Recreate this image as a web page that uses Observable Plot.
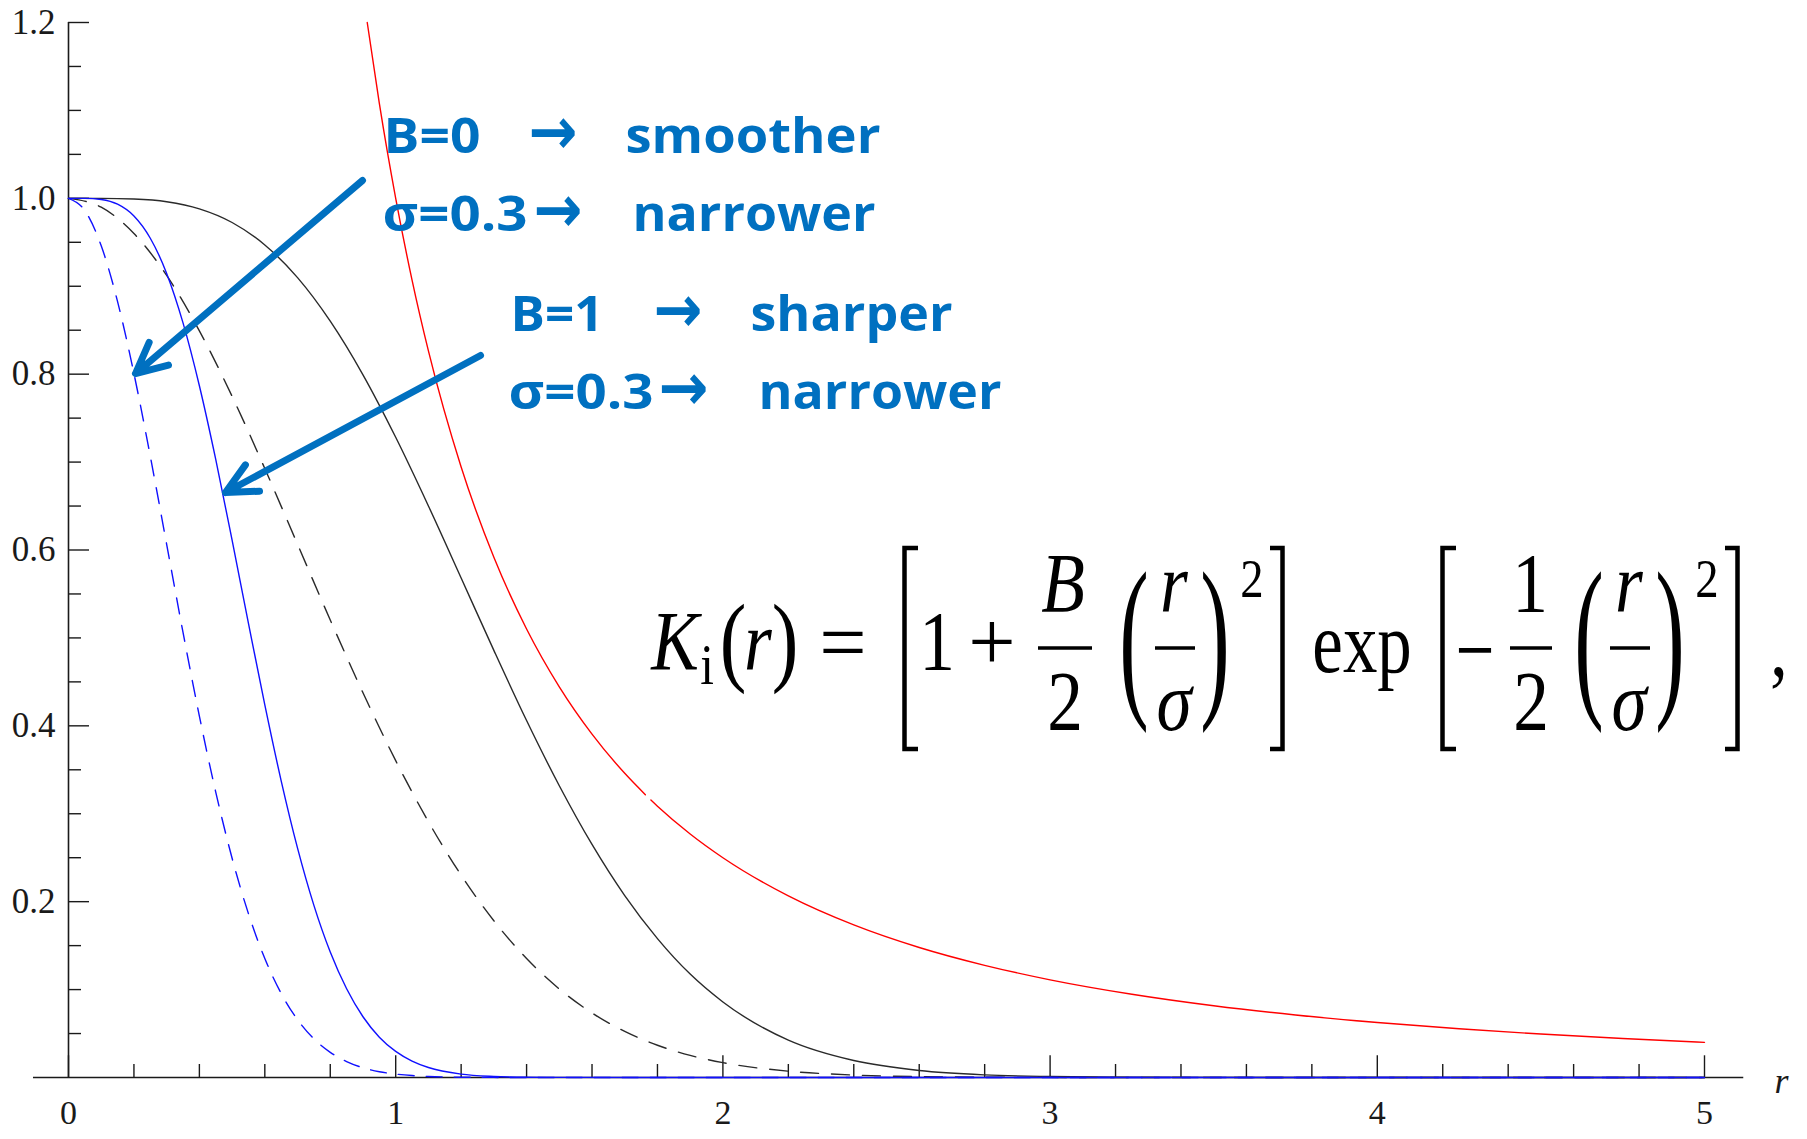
<!DOCTYPE html>
<html>
<head>
<meta charset="utf-8">
<script src="https://cdn.jsdelivr.net/npm/d3@7"></script>
<script src="https://cdn.jsdelivr.net/npm/@observablehq/plot@0.6"></script>
<style>
html, body { margin: 0; padding: 0; background: #fff; }
#chart { width: 1807px; height: 1139px; }
</style>
</head>
<body>
<div id="chart"></div>
<script>
// ---------- data ----------
const rBlue = [0,0.05,0.1,0.15,0.2,0.25,0.3,0.35,0.4,0.45,0.5,0.55,0.6,0.65,0.7,0.75,0.8,0.85,0.9,0.95,1.0,1.05,1.1,1.2,1.3,1.4,1.5,2,3,4,5];
const blueDashed = [1,0.986,0.946,0.8825,0.8007,0.7066,0.6065,0.5063,0.4111,0.3247,0.2494,0.1863,0.1353,0.0956,0.0657,0.0439,0.0286,0.0181,0.0111,0.0066,0.0039,0.0022,0.0012,0.0003,0.0001,0,0,0,0,0,0];
const blueSolid = [1,1.0,0.9987,0.9933,0.9799,0.9546,0.9146,0.8583,0.7868,0.7030,0.6112,0.5165,0.4238,0.3375,0.2609,0.1958,0.1427,0.1009,0.0691,0.0459,0.0297,0.0187,0.0114,0.0039,0.0012,0.0003,0.0001,0,0,0,0];

const rBlack = [0,0.1,0.2,0.3,0.4,0.5,0.6,0.7,0.8,0.9,1.0,1.1,1.2,1.3,1.4,1.5,1.6,1.7,1.8,1.9,2.0,2.2,2.4,2.6,2.8,3.0,3.2,3.5,4,4.5,5];
const blackDashed = [1,0.9899,0.96,0.9123,0.8493,0.7748,0.6926,0.6065,0.5204,0.4376,0.3604,0.2909,0.2301,0.1783,0.1353,0.1007,0.0734,0.0524,0.0367,0.0251,0.0169,0.0072,0.0028,0.0010,0.0003,0.0001,0,0,0,0,0];
const blackSolid = [1,1.0,0.9992,0.9961,0.988,0.9725,0.947,0.9098,0.8603,0.7993,0.7282,0.6501,0.5682,0.4858,0.406,0.3319,0.2651,0.2069,0.158,0.1176,0.0859,0.0425,0.0193,0.008,0.003,0.0011,0.0003,0.0001,0,0,0];

// red curve (small break in the drawn line near r = 1.77, as in the picture)
const rRed = [0.913,0.95,1.0,1.05,1.1,1.2,1.3,1.4,1.5,1.6,1.7,1.763,1.77,1.78,1.8,1.9,2.0,2.2,2.4,2.6,2.8,3.0,3.25,3.5,3.75,4.0,4.25,4.5,4.75,5.0];
const redCurve = [1.2,1.108,1.0,0.907,0.8264,0.6944,0.5917,0.5102,0.4444,0.3906,0.346,0.3217,NaN,0.3156,0.3086,0.277,0.25,0.2066,0.1736,0.1479,0.1276,0.1111,0.0947,0.0816,0.0711,0.0625,0.0554,0.0494,0.0443,0.04];

// ticks
const yMajor = [0.2,0.4,0.6,0.8,1.0,1.2];
const yLabels = ["0.2","0.4","0.6","0.8","1.0","1.2"];
const yMinor = [0.05,0.1,0.15,0.25,0.3,0.35,0.45,0.5,0.55,0.65,0.7,0.75,0.85,0.9,0.95,1.05,1.1,1.15];
const xMajor = [0,1,2,3,4,5];
const xLabels = ["0","1","2","3","4","5"];
const xMinor = [0.2,0.4,0.6,0.8,1.2,1.4,1.6,1.8,2.2,2.4,2.6,2.8,3.2,3.4,3.6,3.8,4.2,4.4,4.6,4.8];

// annotations (data units)
const noteWords = ["B=0","smoother","σ=0.3","narrower","B=1","sharper","σ=0.3","narrower"];
const noteWordX = [0.9627,1.7023,0.9597,1.7237,1.3509,2.0844,1.3447,2.1088];
const noteWordY = [1.051,1.051,0.9634,0.9634,0.8496,0.8496,0.7609,0.7609];
const noteWordW = [97,255,145,243,93,202,145,243];
const noteArrowX = [1.4059,1.4212,1.7879,1.8032];
const noteArrowY = [1.051,0.9634,0.8496,0.7609];
const noteArrowW = [49,49,49,50];

const pointerX1 = [0.8985,1.2592];
const pointerY1 = [1.0203,0.8212];
const pointerX2 = [0.2048,0.4798];
const pointerY2 = [0.8007,0.6654];

const BLUE_NOTE = "#0070C0";
const AXIS = "#1a1a1a";
const SERIF = "Liberation Serif, Times New Roman, serif";

const lineOpts = {curve: "monotone-x", strokeWidth: 1.4};

const plot = Plot.plot({
  width: 1807,
  height: 1139,
  marginLeft: 68,
  marginRight: 103,
  marginTop: 22,
  marginBottom: 62,
  x: {domain: [0, 5], axis: null},
  y: {domain: [0, 1.2], axis: null},
  style: {background: "white", overflow: "visible"},
  marks: [
    // axes
    Plot.ruleY([0], {x1: -0.107, x2: 5.12, stroke: AXIS, strokeWidth: 1.6}),
    Plot.ruleX([0], {y1: 0, y2: 1.2, stroke: AXIS, strokeWidth: 1.6}),
    Plot.ruleY(yMajor, {x1: 0, x2: 0.0642, stroke: AXIS, strokeWidth: 1.4}),
    Plot.ruleY(yMinor, {x1: 0, x2: 0.0397, stroke: AXIS, strokeWidth: 1.4}),
    Plot.ruleX(xMajor, {y1: 0, y2: 0.0247, stroke: AXIS, strokeWidth: 1.4}),
    Plot.ruleX(xMinor, {y1: 0, y2: 0.0148, stroke: AXIS, strokeWidth: 1.4}),
    Plot.text(yMajor, {x: 0, y: d => d, text: (d, i) => yLabels[i], textAnchor: "end", dx: -13,
      fontFamily: SERIF, fontSize: 35, fill: AXIS}),
    Plot.text(xMajor, {x: d => d, y: 0, text: (d, i) => xLabels[i], dy: 36, lineAnchor: "middle",
      fontFamily: SERIF, fontSize: 34, fill: AXIS}),
    Plot.text(["r"], {x: 5.235, y: 0, dy: 15, lineAnchor: "bottom", text: d => d,
      fontFamily: SERIF, fontStyle: "italic", fontSize: 36, fill: AXIS}),
    // curves
    Plot.line(rBlack, {x: rBlack, y: blackDashed, stroke: "#2a2a2a", strokeDasharray: "18,13", ...lineOpts}),
    Plot.line(rBlack, {x: rBlack, y: blackSolid, stroke: "#2a2a2a", ...lineOpts}),
    Plot.line(rRed, {x: rRed, y: redCurve, stroke: "#ff0000", ...lineOpts}),
    Plot.line(rBlue, {x: rBlue, y: blueDashed, stroke: "#1010ff", strokeDasharray: "16,12", ...lineOpts}),
    Plot.line(rBlue, {x: rBlue, y: blueSolid, stroke: "#1010ff", ...lineOpts}),
    // annotation pointers
    Plot.arrow(pointerX1, {x1: pointerX1, y1: pointerY1, x2: pointerX2, y2: pointerY2,
      stroke: BLUE_NOTE, strokeWidth: 7, headLength: 7.3, headAngle: 52}),
    // annotation texts
    Plot.text(noteWords, {x: noteWordX, y: noteWordY, text: d => d, textAnchor: "start", lineAnchor: "bottom",
      fontFamily: "Open Sans", fontWeight: "bold", fontSize: 49, fill: BLUE_NOTE}),
    Plot.text(noteArrowX, {x: noteArrowX, y: noteArrowY, text: () => "→", textAnchor: "start", lineAnchor: "bottom",
      dy: 1, fontFamily: "DejaVu Sans", fontWeight: "bold", fontSize: 66, fill: BLUE_NOTE})
  ]
});

document.getElementById("chart").appendChild(plot);

// fit annotation widths (texts are matched in drawing order)
const allTexts = Array.from(plot.querySelectorAll("text"));
let wi = 0, ai = 0;
allTexts.forEach(n => {
  const s = n.textContent;
  if (wi < noteWords.length && s === noteWords[wi]) {
    n.setAttribute("textLength", noteWordW[wi]);
    n.setAttribute("lengthAdjust", "spacingAndGlyphs");
    wi++;
  } else if (s === "→" && ai < noteArrowW.length) {
    n.setAttribute("textLength", noteArrowW[ai]);
    n.setAttribute("lengthAdjust", "spacingAndGlyphs");
    ai++;
  }
});

// ---------- formula (typeset text) ----------
const svg = d3.select(plot);
const fg = svg.append("g").attr("fill", "#000").attr("font-family", SERIF);
// [text, centre x, baseline y, font size, italic, horizontal scale, fixed width, font]
const pieces = [
  ["K", 675, 670, 84, true, 0.85],
  ["i", 707, 684, 58, false, 0.85],
  ["(", 733, 673, 100, false, 0.8],
  ["r", 758, 670, 84, true, 0.85],
  [")", 785, 673, 100, false, 0.8],
  ["=", 843, 671, 84, false, 1.0],
  ["1", 937, 670, 84, false, 0.85],
  ["+", 992, 670, 84, false, 1.0],
  ["B", 1063, 612, 84, true, 0.85],
  ["2", 1065, 730, 84, false, 0.85],
  ["(", 1134, 695, 177, false, 0.5],
  ["r", 1174, 612, 84, true, 0.85],
  ["σ", 1174, 730, 84, true, 0.85],
  [")", 1215, 695, 177, false, 0.5],
  ["2", 1252, 597, 55, false, 0.85],
  ["exp", 1362, 672, 86, false, 0.8],
  ["−", 1475, 669, 60, false, 1, 43, "DejaVu Serif"],
  ["1", 1530, 612, 84, false, 0.85],
  ["2", 1531, 730, 84, false, 0.85],
  ["(", 1589, 695, 177, false, 0.5],
  ["r", 1629, 612, 84, true, 0.85],
  ["σ", 1629, 730, 84, true, 0.85],
  [")", 1670, 695, 177, false, 0.5],
  ["2", 1707, 597, 55, false, 0.85],
  [",", 1779, 676, 84, false, 0.85]
];
pieces.forEach(([t, cx, by, fs, it, sx, w, font]) => {
  const el = fg.append("text")
    .attr("transform", `translate(${cx},${by}) scale(${sx},1)`)
    .attr("text-anchor", "middle")
    .attr("font-size", fs)
    .attr("font-style", it ? "italic" : "normal")
    .text(t);
  if (w) el.attr("textLength", w).attr("lengthAdjust", "spacingAndGlyphs");
  if (font) el.attr("font-family", font);
});
// fraction rules
[[1038, 1092], [1155, 1195], [1510, 1552], [1610, 1650]].forEach(([a, b]) => {
  fg.append("line").attr("x1", a).attr("x2", b).attr("y1", 648).attr("y2", 648)
    .attr("stroke", "#000").attr("stroke-width", 3.5);
});
// tall brackets
["M918,548H904.5V749H918", "M1270,548H1282.5V749H1270", "M1456,548H1442.5V749H1456", "M1725,548H1737.5V749H1725"]
  .forEach(d => {
    fg.append("path").attr("d", d).attr("fill", "none").attr("stroke", "#000").attr("stroke-width", 4.5)
      .attr("stroke-linejoin", "miter");
  });
</script>
</body>
</html>
